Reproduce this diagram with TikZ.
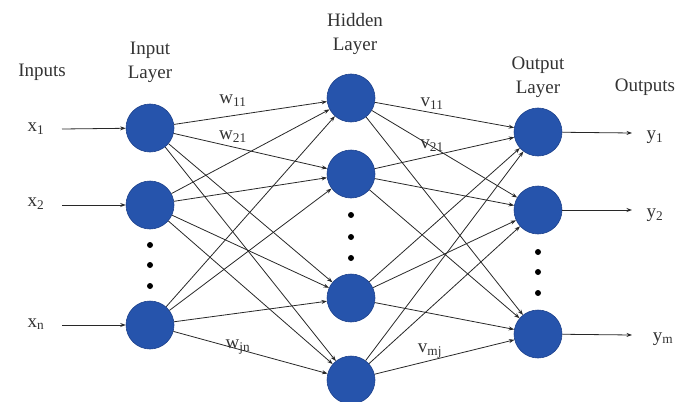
\documentclass[tikz,border=0pt]{standalone}
\usepackage{fontspec}
\setmainfont{Liberation Serif}
\usetikzlibrary{arrows.meta}
\definecolor{nodeblue}{RGB}{38,84,172}
\definecolor{nodeedge}{RGB}{30,66,140}
\definecolor{wire}{RGB}{40,40,40}
\begin{document}
\begin{tikzpicture}[x=1pt,y=-1pt,
  neuron/.style={circle,fill=nodeblue,draw=nodeedge,line width=0.6pt,minimum size=48pt,inner sep=0pt},
  conn/.style={draw=wire,line width=0.8pt,-{Stealth[length=5.5pt,width=4pt]}},
  lbl/.style={font=\fontsize{19}{24}\selectfont,text=black!80,align=center,inner sep=0pt},
  dotmark/.style={circle,fill=black,inner sep=0pt,minimum size=6pt}]
\useasboundingbox (0,0) rectangle (695,401);
% nodes
\node[neuron] (i1) at (150,128) {};
\node[neuron] (i2) at (150,205) {};
\node[neuron] (in) at (150,325) {};
\node[neuron] (h1) at (351,98) {};
\node[neuron] (h2) at (351,174) {};
\node[neuron] (h3) at (351,298) {};
\node[neuron] (h4) at (351,380) {};
\node[neuron] (o1) at (538,132) {};
\node[neuron] (o2) at (538,210) {};
\node[neuron] (om) at (538,334) {};
% dots
\foreach \n/\x/\y in {a1/150/245,a2/150/265,a3/150/286,b1/351/215,b2/351/237,b3/351/258,c1/538/252,c2/538/272,c3/538/293}
  \node[dotmark] (d\n) at (\x,\y) {};
% input labels and arrows
\node[lbl] (x1) at (36,129) {x\textsubscript{1}};
\node[lbl] (x2) at (36,204) {x\textsubscript{2}};
\node[lbl] (xn) at (36,324) {x\textsubscript{n}};
\coordinate (s1) at (62,129);
\coordinate (s2) at (62,205);
\coordinate (sn) at (62,325);
\draw[conn] (s1) -- (i1);
\draw[conn] (s2) -- (i2);
\draw[conn] (sn) -- (in);
% output labels and arrows
\coordinate (e1) at (632,133);
\coordinate (e2) at (632,210);
\coordinate (em) at (632,335);
\draw[conn] (o1) -- (e1);
\draw[conn] (o2) -- (e2);
\draw[conn] (om) -- (em);
\node[lbl] (y1) at (655,137) {y\textsubscript{1}};
\node[lbl] (y2) at (655,215) {y\textsubscript{2}};
\node[lbl] (ym) at (663,339) {y\textsubscript{m}};
% connections
\foreach \a in {i1,i2,in}
  \foreach \b in {h1,h2,h3,h4}
    \draw[conn] (\a) -- (\b);
\foreach \a in {h1,h2,h3,h4}
  \foreach \b in {o1,o2,om}
    \draw[conn] (\a) -- (\b);
% headings
\node[lbl] (tin) at (42,72) {Inputs};
\node[lbl] (til) at (150,62) {Input\\Layer};
\node[lbl] (thl) at (355,34) {Hidden\\Layer};
\node[lbl] (tol) at (538,77) {Output\\Layer};
\node[lbl] (tout) at (645,87) {Outputs};
% weights
\node[lbl] (w11) at (233,101) {w\textsubscript{11}};
\node[lbl] (w21) at (233,137) {w\textsubscript{21}};
\node[lbl] (wjn) at (238,347) {w\textsubscript{jn}};
\node[lbl] (v11) at (432,104) {v\textsubscript{11}};
\node[lbl] (v21) at (432,146) {v\textsubscript{21}};
\node[lbl] (vmj) at (430,351) {v\textsubscript{mj}};
\end{tikzpicture}
\end{document}
